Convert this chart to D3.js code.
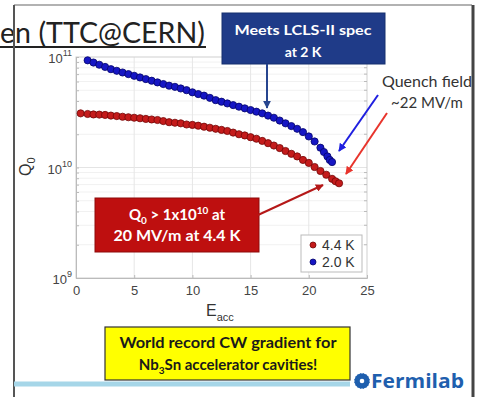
<!DOCTYPE html>
<html>
<head>
<meta charset="utf-8">
<script src="https://cdn.jsdelivr.net/npm/d3@7"></script>
<style>
  body { margin: 0; background: #fff; }
  svg { display: block; }
</style>
</head>
<body>
<svg id="chart" width="477" height="397"></svg>
<script>
// values: Eacc in MV/m, Q0 in units of 1e10
var eacc44 = [0.4, 1.0, 1.5, 2.0, 2.5, 3.0, 3.5, 4.0, 4.5, 5.0, 5.5, 6.0, 6.5, 7.0, 7.5, 8.0, 8.5, 9.0, 9.5, 10.0,
              10.5, 11.0, 11.5, 12.0, 12.5, 13.0, 13.5, 14.0, 14.5, 15.0, 15.5, 16.0, 16.5, 17.0, 17.5, 18.0,
              18.5, 19.0, 19.5, 20.0, 20.5, 21.0, 21.5, 22.0, 22.3, 22.6];
var q44 = [3.09, 3.05, 3.02, 3.01, 2.99, 2.95, 2.92, 2.88, 2.85, 2.82, 2.79, 2.75, 2.72, 2.69, 2.63, 2.57, 2.54, 2.51, 2.45, 2.43,
           2.39, 2.34, 2.29, 2.24, 2.19, 2.14, 2.07, 2.00, 1.95, 1.88, 1.82, 1.74, 1.66, 1.58, 1.50, 1.41,
           1.33, 1.26, 1.17, 1.10, 1.01, 0.93, 0.86, 0.79, 0.75, 0.72];

var eacc20 = [1.0, 1.5, 2.0, 2.5, 3.0, 3.5, 4.0, 4.5, 5.0, 5.5, 6.0, 6.5, 7.0, 7.5, 8.0, 8.5, 9.0, 9.5, 10.0,
              10.5, 11.0, 11.5, 12.0, 12.5, 13.0, 13.5, 14.0, 14.5, 15.0, 15.5, 16.0, 16.5, 17.0, 17.5, 18.0,
              18.5, 19.0, 19.5, 20.0, 20.5, 21.0, 21.3, 21.6, 21.8, 22.0];
var q20 = [9.33, 8.91, 8.51, 8.13, 7.76, 7.50, 7.24, 7.00, 6.76, 6.53, 6.31, 6.10, 5.89, 5.69, 5.50, 5.37, 5.19, 5.01, 4.79,
           4.62, 4.47, 4.27, 4.07, 3.94, 3.80, 3.67, 3.55, 3.43, 3.31, 3.20, 3.09, 2.95, 2.82, 2.66, 2.51,
           2.37, 2.24, 2.09, 1.91, 1.72, 1.51, 1.38, 1.26, 1.17, 1.12];

var xTicks = [0, 5, 10, 15, 20, 25];
var yTicks = [1e9, 1e10, 1e11];
var yTickExp = ["9", "10", "11"];
var seriesNames = ["4.4 K", "2.0 K"];
var seriesColors = ["#c41b1b", "#1616c4"];
var seriesEdges = ["#720606", "#05056a"];

var svg = d3.select("#chart");
var sans = "'Liberation Sans', Arial, sans-serif";
var cal = "Lato, 'Open Sans', sans-serif";

var margin = {left: 76, top: 57, right: 110, bottom: 119};
var w = 477 - margin.left - margin.right,
    h = 397 - margin.top - margin.bottom;

var x = d3.scaleLinear().domain([0, 25]).range([0, w]);
var y = d3.scaleLog().domain([1e9, 1e11]).range([h, 0]);

var g = svg.append("g").attr("transform", "translate(" + margin.left + "," + margin.top + ")");

// grid
var minor = [];
[1e9, 1e10].forEach(function (dec) {
    for (var k = 2; k <= 9; k++) minor.push(dec * k);
});
g.selectAll(".hminor").data(minor).enter().append("line")
    .attr("x1", 0).attr("x2", w)
    .attr("y1", d => y(d)).attr("y2", d => y(d))
    .attr("stroke", "#f1f1f1");
g.selectAll(".hmajor").data([1e10]).enter().append("line")
    .attr("x1", 0).attr("x2", w)
    .attr("y1", d => y(d)).attr("y2", d => y(d))
    .attr("stroke", "#e4e4e4");
g.selectAll(".vgrid").data(xTicks.slice(1, -1)).enter().append("line")
    .attr("x1", d => x(d)).attr("x2", d => x(d))
    .attr("y1", 0).attr("y2", h)
    .attr("stroke", "#e6e6e6");

// box
g.append("rect").attr("width", w).attr("height", h)
    .attr("fill", "none").attr("stroke", "#cfcfcf");

// minor ticks on the right edge
g.selectAll(".rtick").data(minor).enter().append("line")
    .attr("x1", w - 3).attr("x2", w)
    .attr("y1", d => y(d)).attr("y2", d => y(d))
    .attr("stroke", "#bbb");

// axes
var xAxis = g.append("g").attr("transform", "translate(0," + h + ")")
    .call(d3.axisBottom(x).tickValues(xTicks).tickSize(-3).tickPadding(8));
xAxis.select(".domain").attr("stroke", "#bbb");
xAxis.selectAll(".tick line").attr("stroke", "#bbb");
xAxis.selectAll("text").attr("fill", "#444").style("font-family", sans).style("font-size", "13px");

var yAxis = g.append("g")
    .call(d3.axisLeft(y).tickValues(yTicks.concat(minor)).tickSize(-3).tickFormat(""));
yAxis.select(".domain").attr("stroke", "#bbb");
yAxis.selectAll(".tick line").attr("stroke", "#bbb");

yTicks.forEach(function (t, i) {
    var lab = g.append("text")
        .attr("x", -4).attr("y", y(t) + 6)
        .attr("text-anchor", "end")
        .attr("fill", "#444")
        .style("font-family", sans).style("font-size", "13px");
    lab.append("tspan").text("10");
    lab.append("tspan").attr("dy", -7).style("font-size", "9px").text(yTickExp[i]);
});

// axis titles
var ql = svg.append("text")
    .attr("transform", "translate(31,176) rotate(-90)")
    .attr("fill", "#333").style("font-family", sans).style("font-size", "16px");
ql.append("tspan").text("Q");
ql.append("tspan").attr("dy", 4).style("font-size", "11px").text("0");

var el = svg.append("text")
    .attr("x", 206).attr("y", 316)
    .attr("fill", "#333").style("font-family", sans).style("font-size", "16px");
el.append("tspan").text("E");
el.append("tspan").attr("dy", 5).style("font-size", "11px").text("acc");

// data points
var series = [
    eacc44.map((e, i) => ({e: e, q: q44[i] * 1e10})),
    eacc20.map((e, i) => ({e: e, q: q20[i] * 1e10}))
];
series.forEach(function (pts, s) {
    g.append("g").selectAll("circle").data(pts).enter().append("circle")
        .attr("cx", d => x(d.e)).attr("cy", d => y(d.q))
        .attr("r", 3.6)
        .attr("fill", seriesColors[s])
        .attr("stroke", seriesEdges[s]).attr("stroke-width", 0.8);
});

// legend
var lg = svg.append("g").attr("transform", "translate(301,235)");
lg.append("rect").attr("width", 61).attr("height", 37)
    .attr("fill", "#fff").attr("stroke", "#bbb");
seriesNames.forEach(function (n, i) {
    lg.append("circle").attr("cx", 12).attr("cy", 10 + i * 17).attr("r", 3)
        .attr("fill", seriesColors[i]).attr("stroke", seriesEdges[i]).attr("stroke-width", 0.8);
    lg.append("text").attr("x", 21).attr("y", 15 + i * 17)
        .attr("fill", "#333").style("font-family", sans).style("font-size", "14px").text(n);
});

// arrowheads
var defs = svg.append("defs");
function marker(id, col) {
    defs.append("marker").attr("id", id)
        .attr("viewBox", "0 0 10 10").attr("refX", 9).attr("refY", 5)
        .attr("markerWidth", 4).attr("markerHeight", 4).attr("orient", "auto")
        .append("path").attr("d", "M0,0 L10,5 L0,10 z").attr("fill", col);
}
marker("ahNavy", "#27458f");
marker("ahBlue", "#1f1fe0");
marker("ahRed", "#e8342c");
marker("ahDark", "#b51818");

function arrow(x1, y1, x2, y2, col, id) {
    svg.append("line").attr("x1", x1).attr("y1", y1).attr("x2", x2).attr("y2", y2)
        .attr("stroke", col).attr("stroke-width", 2)
        .attr("marker-end", "url(#" + id + ")");
}

// slide frame
svg.append("line").attr("x1", 14).attr("x2", 472).attr("y1", 5).attr("y2", 5)
    .attr("stroke", "#999").attr("stroke-width", 1.5);
svg.append("line").attr("x1", 473).attr("x2", 473).attr("y1", 5).attr("y2", 397)
    .attr("stroke", "#444").attr("stroke-width", 3);

// title fragment
svg.append("text").attr("x", 0).attr("y", 43)
    .attr("fill", "#222").style("font-family", cal).style("font-size", "29px")
    .attr("textLength", 205).attr("lengthAdjust", "spacingAndGlyphs")
    .text("en (TTC@CERN)");
svg.append("line").attr("x1", 0).attr("x2", 206).attr("y1", 47).attr("y2", 47)
    .attr("stroke", "#222").attr("stroke-width", 2);
svg.append("line").attr("x1", 14).attr("x2", 14).attr("y1", 5).attr("y2", 397)
    .attr("stroke", "#555").attr("stroke-width", 2);

// navy callout
svg.append("rect").attr("x", 222).attr("y", 13).attr("width", 163).attr("height", 51)
    .attr("fill", "#1f3b88").attr("stroke", "#16306e");
svg.append("text").attr("x", 303).attr("y", 35).attr("text-anchor", "middle")
    .attr("fill", "#fff").style("font-family", cal).style("font-weight", "bold").style("font-size", "14px")
    .attr("textLength", 137).attr("lengthAdjust", "spacingAndGlyphs")
    .text("Meets LCLS-II spec");
svg.append("text").attr("x", 303).attr("y", 57).attr("text-anchor", "middle")
    .attr("fill", "#fff").style("font-family", cal).style("font-weight", "bold").style("font-size", "14px")
    .text("at 2 K");
arrow(267, 64, 267, 108, "#27458f", "ahNavy");

// quench field note
svg.append("text").attr("x", 427).attr("y", 87).attr("text-anchor", "middle")
    .attr("fill", "#333").style("font-family", cal).style("font-size", "15px")
    .attr("textLength", 90).attr("lengthAdjust", "spacingAndGlyphs")
    .text("Quench field");
svg.append("text").attr("x", 427).attr("y", 108).attr("text-anchor", "middle")
    .attr("fill", "#333").style("font-family", cal).style("font-size", "15px")
    .text("~22 MV/m");
arrow(378, 95, 339, 151, "#1f1fe0", "ahBlue");
arrow(387, 113, 346, 174, "#e8342c", "ahRed");

// red callout
svg.append("rect").attr("x", 95).attr("y", 198).attr("width", 164).attr("height", 54)
    .attr("fill", "#be0f0f").attr("stroke", "#8e0a0a");
var rt = svg.append("text").attr("x", 177).attr("y", 220).attr("text-anchor", "middle")
    .attr("fill", "#fff").style("font-family", cal).style("font-weight", "bold").style("font-size", "15px");
rt.append("tspan").text("Q");
rt.append("tspan").attr("dy", 4).style("font-size", "10px").text("0");
rt.append("tspan").attr("dy", -4).text(" > 1x10");
rt.append("tspan").attr("dy", -6).style("font-size", "10px").text("10");
rt.append("tspan").attr("dy", 6).text(" at");
svg.append("text").attr("x", 177).attr("y", 241).attr("text-anchor", "middle")
    .attr("fill", "#fff").style("font-family", cal).style("font-weight", "bold").style("font-size", "15px")
    .attr("textLength", 127).attr("lengthAdjust", "spacingAndGlyphs")
    .text("20 MV/m at 4.4 K");
arrow(258, 215, 323, 185, "#b51818", "ahDark");

// bottom band + yellow note
svg.append("line").attr("x1", 14).attr("x2", 350).attr("y1", 384).attr("y2", 384)
    .attr("stroke", "#a6d6e8").attr("stroke-width", 5);
svg.append("rect").attr("x", 105).attr("y", 327).attr("width", 245).attr("height", 53)
    .attr("fill", "#ffff00").attr("stroke", "#333").attr("stroke-width", 1.2);
svg.append("text").attr("x", 228).attr("y", 348).attr("text-anchor", "middle")
    .attr("fill", "#1a1a1a").style("font-family", cal).style("font-weight", "bold").style("font-size", "15px")
    .attr("textLength", 217).attr("lengthAdjust", "spacingAndGlyphs")
    .text("World record CW gradient for");
var yt = svg.append("text").attr("x", 228).attr("y", 370).attr("text-anchor", "middle")
    .attr("fill", "#1a1a1a").style("font-family", cal).style("font-weight", "bold").style("font-size", "15px");
yt.append("tspan").text("Nb");
yt.append("tspan").attr("dy", 4).style("font-size", "10px").text("3");
yt.append("tspan").attr("dy", -4).text("Sn accelerator cavities!");

// Fermilab logo
var logo = svg.append("g").attr("transform", "translate(362,381)");
for (var k = 0; k < 8; k++) {
    logo.append("rect").attr("x", -2).attr("y", -7.5).attr("width", 4).attr("height", 15)
        .attr("fill", "#1f5fae").attr("transform", "rotate(" + (k * 22.5) + ")");
}
logo.append("circle").attr("r", 5.5).attr("fill", "#1f5fae");
logo.append("circle").attr("r", 2.3).attr("fill", "#fff");
svg.append("text").attr("x", 371).attr("y", 388)
    .attr("fill", "#1f5fae").style("font-family", "'Open Sans', sans-serif").style("font-weight", "bold").style("font-size", "20px")
    .attr("textLength", 93).attr("lengthAdjust", "spacingAndGlyphs")
    .text("Fermilab");
</script>
</body>
</html>
